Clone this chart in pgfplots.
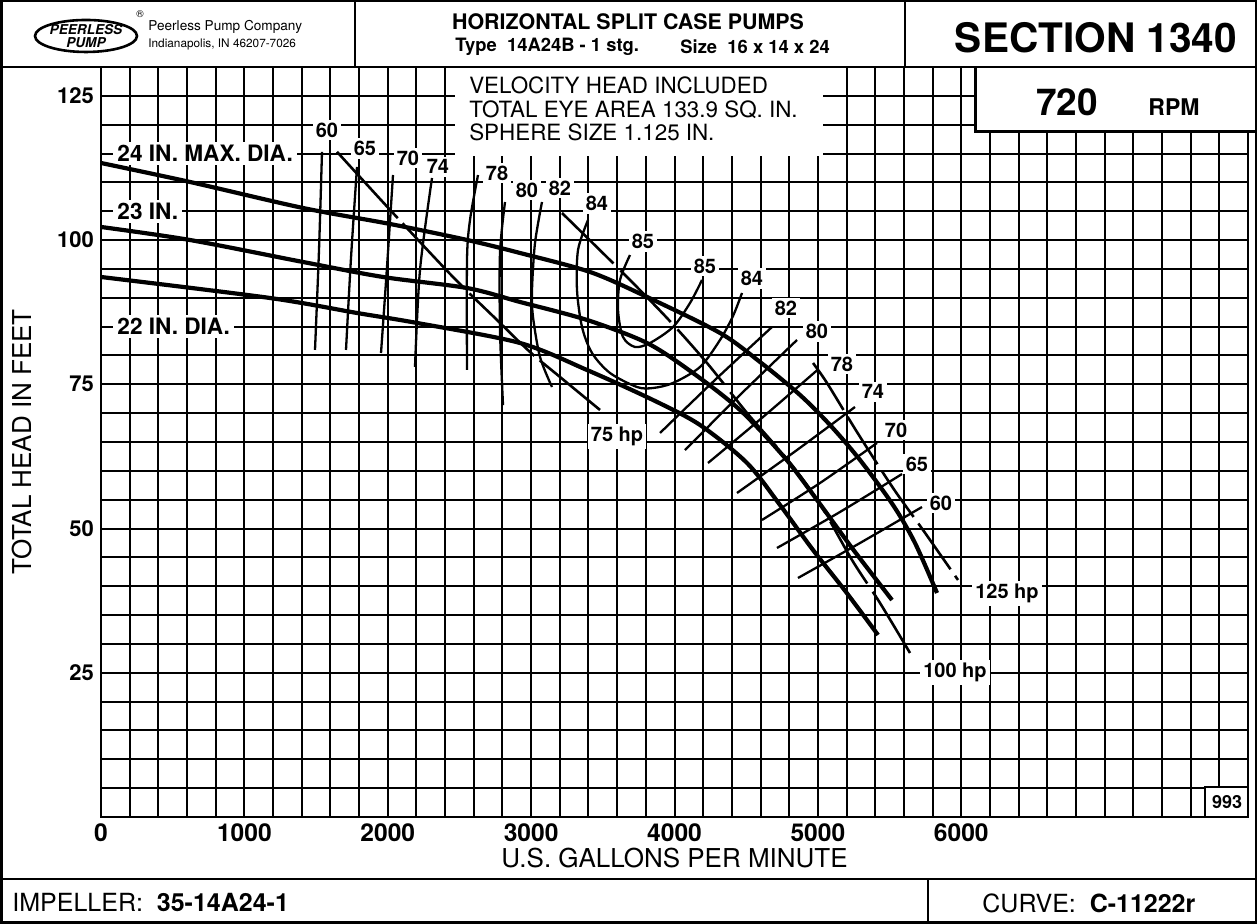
\documentclass[border=0pt]{standalone}
\usepackage{pgfplots}
\pgfplotsset{compat=1.18}
\usepackage{fontspec}
\setmainfont{TeX Gyre Heros}
\begin{document}
\begin{tikzpicture}[
  lab/.style={fill=white, font=\bfseries\fontsize{10}{12}\selectfont, inner sep=1.5pt},
  clab/.style={fill=white, anchor=west, font=\bfseries\fontsize{11.3}{13}\selectfont, inner xsep=2pt, inner ysep=1.5pt},
  head/.style={black, line width=2.1pt, smooth, tension=0.5},
  eff/.style={black, line width=1.15pt, smooth, tension=0.5},
  hp/.style={black, line width=1.3pt, smooth, tension=0.5}
]
\useasboundingbox (0,0) rectangle (628.5pt,462pt);
\begin{axis}[
  at={(50.5pt,53.5pt)}, anchor=south west, scale only axis,
  width=573.5pt, height=375pt,
  xmin=0, xmax=8000, ymin=0, ymax=130,
  xtick={0,1000,...,8000}, xticklabels={0,1000,2000,3000,4000,5000,6000,{},{}},
  ytick={0,25,...,125}, yticklabels={{},25,50,75,100,125},
  scaled x ticks=false, scaled y ticks=false,
  minor x tick num=4, minor y tick num=4,
  grid=both,
  major grid style={black, line width=1pt},
  minor grid style={black, line width=1pt},
  major tick length=0pt, minor tick length=0pt,
  axis line style={line width=1.3pt},
  xticklabel style={font=\bfseries\fontsize{12.3}{14}\selectfont},
  yticklabel style={font=\bfseries\fontsize{11}{13}\selectfont},
  xlabel={U.S. GALLONS PER MINUTE}, ylabel={TOTAL HEAD IN FEET},
  label style={font=\fontsize{13}{15}\selectfont},
  xlabel style={at={(axis description cs:0.5,-0.0547)}, anchor=center},
  ylabel style={at={(axis description cs:-0.0689,0.5)}, anchor=center},
]
% white box behind notes
\fill[white] (2469,114.5) rectangle (5036,129.9);
\node[anchor=west, align=left, inner sep=0pt, font=\fontsize{11.2}{11.75}\selectfont] at (2566,122.7)
  {VELOCITY HEAD INCLUDED\\TOTAL EYE AREA 133.9 SQ. IN.\\SPHERE SIZE 1.125 IN.};
% diameter labels
\node[clab] at (84,115) {24 IN. MAX. DIA.};
\node[clab] at (84,105) {23 IN.};
\node[clab] at (84,85) {22 IN. DIA.};
% efficiency labels
\node[lab] at (1576,119.1) {60};
\node[lab] at (1841,115.9) {65};
\node[lab] at (2141,114.2) {70};
\node[lab] at (2350,112.7) {74};
\node[lab] at (2762,111.6) {78};
\node[lab] at (2971,108.7) {80};
\node[lab] at (3201,109.0) {82};
\node[lab] at (3459,106.3) {84};
\node[lab] at (3780,99.7) {85};
\node[lab] at (4212,95.5) {85};
\node[lab] at (4540,93.3) {84};
\node[lab] at (4777,88.2) {82};
\node[lab] at (4993,84.2) {80};
\node[lab] at (5168,78.5) {78};
\node[lab] at (5384,73.7) {74};
\node[lab] at (5545,67.1) {70};
\node[lab] at (5691,61.2) {65};
\node[lab] at (5858,54.4) {60};
\node[lab] at (3599,65.9) {75 hp};
\node[lab] at (6319,38.8) {125 hp};
\node[lab] at (5956,25.0) {100 hp};
% head curves
\addplot[head] coordinates {(0,113.36) (620.7,110.07) (1408.9,105.56) (2015.7,102.79) (2552.7,100.02) (2922.4,97.76) (3410.6,94.47) (3808.2,90.14) (4317.3,83.90) (4596.3,78.87) (4875.3,73.15) (5084.5,67.95) (5293.8,61.88) (5524.0,54.08) (5677.4,47.49) (5830.9,38.83)};
\addplot[head] coordinates {(0,102.27) (620.7,100.01) (1408.9,96.20) (1966.9,93.60) (2552.7,91.69) (2922.4,89.27) (3389.7,86.15) (3808.2,82.16) (4129.0,76.96) (4456.8,70.55) (4770.7,62.23) (4993.9,54.95) (5238.0,46.63) (5517.0,37.61)};
\addplot[head] coordinates {(0,93.60) (1178.7,89.96) (1785.5,87.36) (2204.0,85.63) (2922.4,82.16) (3389.7,77.48) (3850.0,72.28) (4177.9,67.95) (4505.7,61.36) (4735.8,54.08) (4966.0,46.28) (5196.2,39.00) (5419.3,31.55)};
% efficiency left branches
\addplot[eff] coordinates {(1541.4,115.30) (1520.5,98.28) (1492.6,80.95)};
\addplot[eff] coordinates {(1785.5,112.67) (1743.7,96.90) (1708.8,80.95)};
\addplot[eff] coordinates {(2036.6,111.28) (1994.8,95.33) (1953.0,80.43)};
\addplot[eff] coordinates {(2308.6,110.76) (2224.9,94.81) (2190.1,78.00)};
\addplot[eff] coordinates {(2629.5,111.28) (2573.7,103.48) (2552.7,96.55) (2552.7,77.48)};
\addplot[eff] coordinates {(2817.8,106.60) (2782.9,97.76) (2782.9,84.42) (2803.9,71.40)};
\addplot[eff] coordinates {(3075.8,106.60) (3027.0,99.49) (3006.1,91.35) (3013.1,86.67) (3061.9,79.73) (3145.6,74.53)};
\addplot[eff] coordinates {(3396.7,103.48) (3327.0,98.28) (3320.0,91.35) (3354.9,84.93) (3424.6,80.43) (3550.1,76.96) (3738.4,74.53) (3850.0,74.36) (3989.5,75.23) (4177.9,78.00) (4317.3,82.68) (4408.0,86.84) (4470.8,90.83)};
\addplot[eff] coordinates {(3689.6,97.41) (3619.9,93.08) (3606.0,87.88) (3640.8,83.20) (3724.5,81.47) (3829.1,82.16) (3989.5,84.93) (4108.1,89.09) (4191.8,93.08)};
% efficiency right branches
\addplot[eff] coordinates {(3898.9,66.56) (4282.5,75.75) (4680.0,84.93)};
\addplot[eff] coordinates {(4073.2,63.61) (4456.8,73.15) (4854.4,82.68)};
\addplot[eff] coordinates {(4233.6,61.36) (4617.2,69.33) (4996.9,77.48)};
\addplot[eff] coordinates {(4436.0,56.16) (4854.4,63.61) (5258.9,71.07)};
\addplot[eff] coordinates {(4610.3,51.48) (5014.8,57.89) (5412.4,64.83)};
\addplot[eff] coordinates {(4714.9,46.63) (5154.3,52.87) (5586.8,59.45)};
\addplot[eff] coordinates {(4861.4,41.43) (5293.8,47.49) (5726.2,53.73)};
% horsepower lines
\addplot[hp, dash pattern=on 45pt off 3.5pt] coordinates {(1646.0,115.30) (2015.7,105.25) (2455.1,93.60) (2762.0,86.15) (2992.2,80.60) (3201.4,76.27) (3480.4,70.55)};
\addplot[hp, dash pattern=on 36pt off 5pt] coordinates {(3215.3,104.69) (3619.9,94.81) (3947.7,86.49) (4226.7,78.69) (4505.7,70.03) (4790.0,61.88) (5010.0,54.43) (5238.0,44.55) (5433.3,37.09) (5642.5,28.43)};
\addplot[hp, dash pattern=on 28pt off 4pt] coordinates {(4966.0,78.69) (5063.6,75.23) (5272.8,66.73) (5524.0,57.03) (5733.2,49.75) (5977.3,41.08)};
\end{axis}
\begin{scope}[x=0.5pt,y=-0.5pt,yshift=462pt]
% RPM box
\fill[white] (975,67) rectangle (1257,132);
\draw[line width=1.5pt] (975,67) -- (975,132) -- (1257,132);
\node[font=\bfseries\fontsize{18.5}{20}\selectfont] at (1067,102) {720};
\node[font=\bfseries\fontsize{11.5}{13}\selectfont] at (1174,107) {RPM};
% 993 box
\filldraw[fill=white, draw=black, line width=1pt] (1205,787) rectangle (1248,817);
\node[font=\bfseries\fontsize{9}{11}\selectfont] at (1227,802) {993};
% header
\fill[white] (0,0) rectangle (1257,66);
\draw[line width=1.3pt] (0,67) -- (1257,67);
\draw[line width=1.2pt] (355,0) -- (355,67);
\draw[line width=1.2pt] (905,0) -- (905,67);
\draw[line width=1.3pt] (86,36) ellipse [x radius=51, y radius=16];
\node[font=\bfseries\itshape\fontsize{6.8}{7}\selectfont, inner sep=0pt] at (86,30) {PEERLESS};
\node[font=\bfseries\itshape\fontsize{6.8}{7}\selectfont, inner sep=0pt] at (86,43) {PUMP};
\node[font=\fontsize{5}{6}\selectfont, inner sep=0pt] at (140,14) {\textregistered};
\node[anchor=west, inner sep=0pt, font=\fontsize{6.8}{8}\selectfont] at (148,27) {Peerless Pump Company};
\node[anchor=west, inner sep=0pt, font=\fontsize{5.9}{7}\selectfont] at (148,45) {Indianapolis, IN 46207-7026};
\node[font=\bfseries\fontsize{10.7}{12}\selectfont] at (628,22) {HORIZONTAL SPLIT CASE PUMPS};
\node[anchor=west, inner sep=0pt, font=\bfseries\fontsize{9.2}{10}\selectfont] at (455,47) {Type\ \ 14A24B - 1 stg.};
\node[anchor=west, inner sep=0pt, font=\bfseries\fontsize{9.2}{10}\selectfont] at (680,47) {Size\ \ 16 x 14 x 24};
\node[font=\bfseries\fontsize{20.3}{22}\selectfont] at (1096,38) {SECTION 1340};
% footer
\draw[line width=1.3pt] (0,879) -- (1257,879);
\draw[line width=1.2pt] (928,879) -- (928,924);
\node[anchor=west, inner sep=0pt, font=\fontsize{12.5}{14}\selectfont] at (12,903) {IMPELLER:\ \ \textbf{35-14A24-1}};
\node[anchor=west, inner sep=0pt, font=\fontsize{12.5}{14}\selectfont] at (982,903) {CURVE:\ \ \textbf{C-11222r}};
% frame
\draw[line width=1.5pt] (1,1) rectangle (1256,923);
\end{scope}
\end{tikzpicture}
\end{document}
